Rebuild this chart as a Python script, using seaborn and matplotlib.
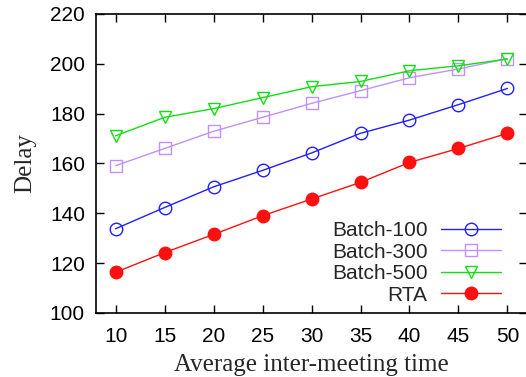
import matplotlib
matplotlib.use("Agg")
import matplotlib.pyplot as plt
import seaborn as sns
import pandas as pd

x_vals = [10, 15, 20, 25, 30, 35, 40, 45, 50]
batch100 = [133.8, 142.3, 150.6, 157.2, 164.2, 172.1, 177.4, 183.6, 190.1]
batch300 = [159.1, 166.0, 172.9, 178.5, 184.1, 189.2, 194.4, 197.9, 202.1]
batch500 = [171.1, 178.5, 182.0, 186.4, 190.8, 192.9, 197.2, 199.2, 201.9]
rta = [116.3, 124.2, 131.5, 139.0, 145.7, 152.4, 160.4, 166.0, 172.1]
series_names = ["Batch-100", "Batch-300", "Batch-500", "RTA"]
x_ticks = [10, 15, 20, 25, 30, 35, 40, 45, 50]
y_ticks = [100, 120, 140, 160, 180, 200, 220]

sns.set_style("ticks")
plt.rcParams['font.family'] = ['Liberation Sans', 'DejaVu Sans']

rows = []
for name, vals in zip(series_names, [batch100, batch300, batch500, rta]):
    for xv, yv in zip(x_vals, vals):
        rows.append({"x": xv, "y": yv, "series": name})
df = pd.DataFrame(rows)

colors = {"Batch-100": "#2020ff", "Batch-300": "#c090ff",
          "Batch-500": "#10e010", "RTA": "#ff1010"}
markers = {"Batch-100": "o", "Batch-300": "s", "Batch-500": "v", "RTA": "o"}

fig = plt.figure(figsize=(5.26, 3.77), dpi=100)
ax = fig.add_axes([0.1825, 0.170, 0.8195, 0.793])

for name in series_names:
    sub = df[df.series == name]
    filled = name == "RTA"
    sns.lineplot(data=sub, x="x", y="y", ax=ax, color=colors[name],
                 marker=markers[name], markersize=9 if markers[name] != "s" else 8,
                 markerfacecolor=colors[name] if filled else "none",
                 markeredgecolor=colors[name], markeredgewidth=1.0,
                 linewidth=1.0, label=name, estimator=None)

ax.set_xlim(8, 52)
ax.set_ylim(100, 220)
ax.set_xticks(x_ticks)
ax.set_yticks(y_ticks)
ax.tick_params(direction="in", length=6, width=1, top=True, right=True,
               labelsize=15, pad=8, colors="black")
ax.tick_params(axis="x", pad=10)
for sp in ax.spines.values():
    sp.set_linewidth(1.2)
    sp.set_color("black")

ax.set_xlabel("Average inter-meeting time", fontsize=18,
              family=["Liberation Serif", "DejaVu Serif"], labelpad=6)
ax.set_ylabel("Delay", fontsize=18,
              family=["Liberation Serif", "DejaVu Serif"], labelpad=10)

leg = ax.legend(loc="lower right", frameon=False, markerfirst=False,
                fontsize=15, handlelength=2.9, handletextpad=0.65,
                labelspacing=0.12, borderaxespad=0.0,
                bbox_to_anchor=(0.96, 0.0))

fig.savefig("out.png", dpi=100)
